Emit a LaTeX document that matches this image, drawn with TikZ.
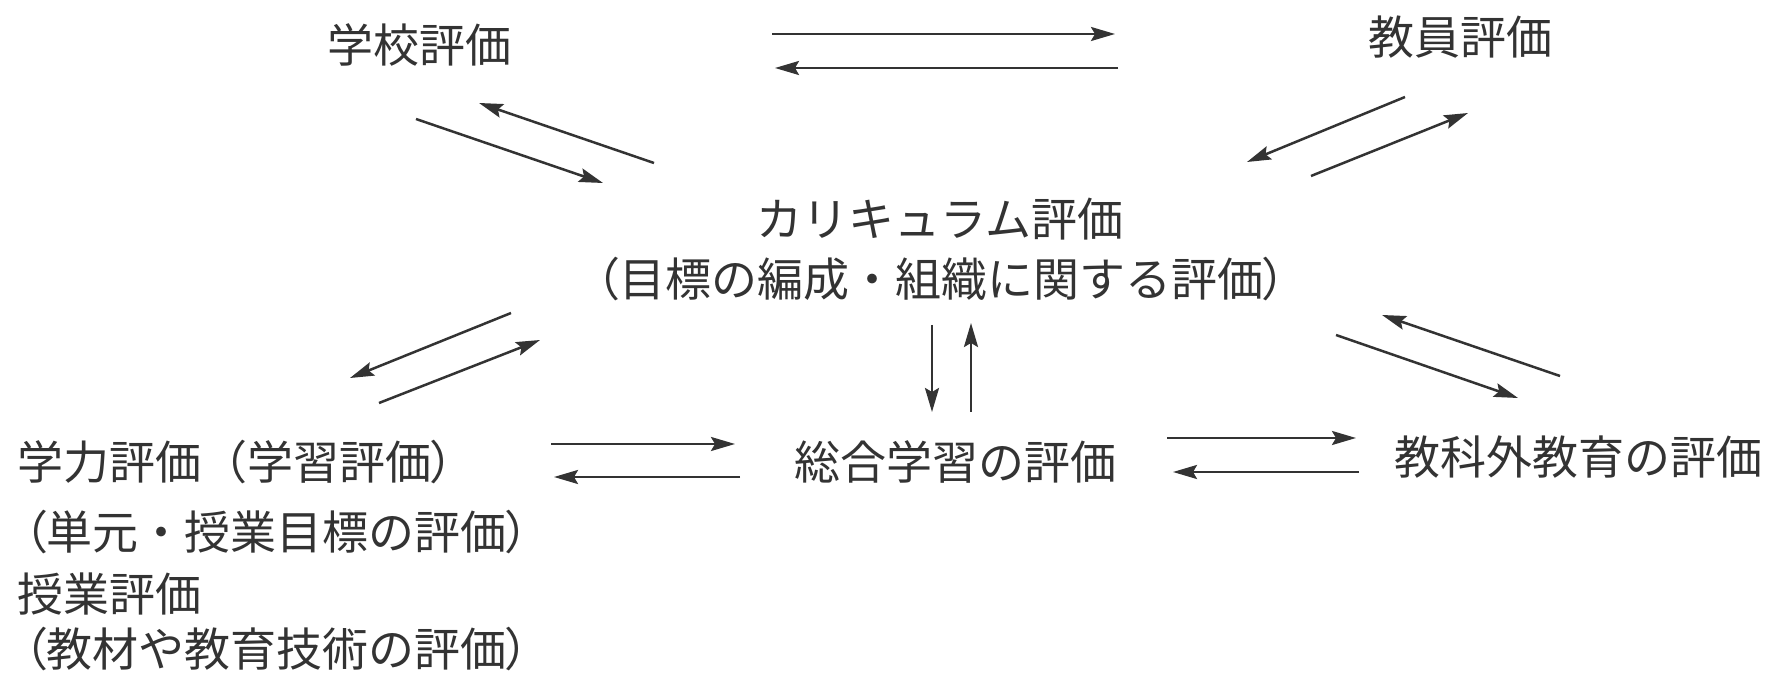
\documentclass[tikz,border=0pt]{standalone}
\usepackage{fontspec}
\newfontfamily\cjk{Noto Sans CJK JP}
\newfontfamily\cjkp[RawFeature=+palt]{Noto Sans CJK JP}
\usetikzlibrary{arrows.meta}
\definecolor{ink}{HTML}{333333}
\newcommand\jlp{{\cjkp （}}
\newcommand\jrp{{\cjkp ）}}
\begin{document}
\begin{tikzpicture}[x=0.5pt,y=-0.5pt,
  lbl/.style={text=ink,font=\cjk\fontsize{23pt}{32pt}\selectfont,inner sep=0pt},
  arr/.style={draw=ink,line width=1.25pt,-{Stealth[length=12pt,width=7pt,inset=2pt]}}]
\useasboundingbox[fill=white] (0,0) rectangle (1784,673);
% labels
\node[lbl] (school) at (419,45) {学校評価};
\node[lbl] (teacher) at (1460,37) {教員評価};
\node[lbl] (curr) at (940,219) {カリキュラム評価};
\node[lbl] (currsub) at (941,279) {\jlp 目標の編成・組織に関する評価\jrp};
\node[lbl] (sogo) at (955,462) {総合学習の評価};
\node[lbl] (kyoka) at (1578,457) {教科外教育の評価};
\node[lbl,anchor=west] (gaku1) at (17,462) {学力評価（学習評価\jrp};
\node[lbl,anchor=west] (gaku2) at (23,532) {\jlp 単元・授業目標の評価\jrp};
\node[lbl,anchor=west] (jugyo1) at (17,594) {授業評価};
\node[lbl,anchor=west] (jugyo2) at (23,649) {\jlp 教材や教育技術の評価\jrp};
% arrow end points
\coordinate (st1) at (772,34);   \coordinate (te1) at (1115,34);
\coordinate (te2) at (1118,68);  \coordinate (st2) at (775,68);
\coordinate (sc1) at (416,119);  \coordinate (cs1) at (603,183);
\coordinate (cs2) at (654,163);  \coordinate (sc2) at (479,103);
\coordinate (tc1) at (1405,97);  \coordinate (ct1) at (1247,162);
\coordinate (ct2) at (1311,176); \coordinate (tc2) at (1468,113);
\coordinate (cg1) at (511,313);  \coordinate (gc1) at (350,378);
\coordinate (gc2) at (379,403);  \coordinate (cg2) at (540,340);
\coordinate (gs1) at (551,444);  \coordinate (sg1) at (735,444);
\coordinate (sg2) at (740,477);  \coordinate (gs2) at (554,477);
\coordinate (cv1) at (932,325);  \coordinate (sv1) at (932,412);
\coordinate (sv2) at (971,412);  \coordinate (cv2) at (971,323);
\coordinate (sk1) at (1167,438); \coordinate (ks1) at (1356,438);
\coordinate (ks2) at (1359,472); \coordinate (sk2) at (1173,472);
\coordinate (kc1) at (1560,376); \coordinate (ck1) at (1382,315);
\coordinate (ck2) at (1336,335); \coordinate (kc2) at (1518,398);
% connectors
\draw[arr] (st1) -- (te1);
\draw[arr] (te2) -- (st2);
\draw[arr] (sc1) -- (cs1);
\draw[arr] (cs2) -- (sc2);
\draw[arr] (tc1) -- (ct1);
\draw[arr] (ct2) -- (tc2);
\draw[arr] (cg1) -- (gc1);
\draw[arr] (gc2) -- (cg2);
\draw[arr] (gs1) -- (sg1);
\draw[arr] (sg2) -- (gs2);
\draw[arr] (cv1) -- (sv1);
\draw[arr] (sv2) -- (cv2);
\draw[arr] (sk1) -- (ks1);
\draw[arr] (ks2) -- (sk2);
\draw[arr] (kc1) -- (ck1);
\draw[arr] (ck2) -- (kc2);
\end{tikzpicture}
\end{document}
